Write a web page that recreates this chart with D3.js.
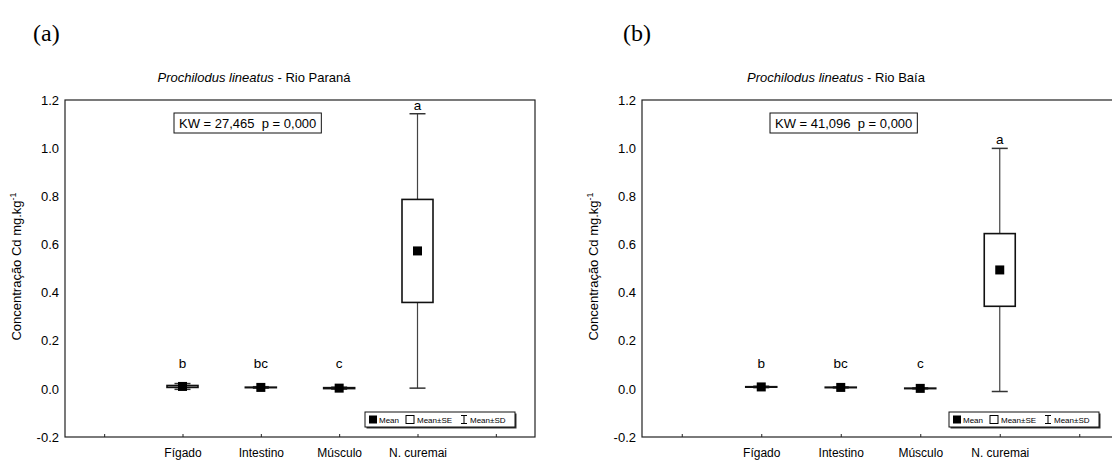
<!DOCTYPE html>
<html>
<head>
<meta charset="utf-8">
<script src="https://cdn.jsdelivr.net/npm/d3@7"></script>
<style>
  html, body { margin: 0; padding: 0; background: #fff; }
  svg { display: block; }
  text { font-family: "Liberation Sans", Arial, sans-serif; fill: #000; }
</style>
</head>
<body>
<svg id="fig" width="1112" height="460"></svg>
<script>
// Cd concentration (mg.kg-1) in Prochilodus lineatus tissues and N. curemai
const categories = ["Fígado", "Intestino", "Músculo", "N. curemai"];
const slots = ["pad0", ...categories, "pad1"];
const yTicks = [-0.2, 0.0, 0.2, 0.4, 0.6, 0.8, 1.0, 1.2];

// Rio Paraná
const meanParana = [0.010, 0.006, 0.003, 0.573];
const seParana   = [0.004, 0.001, 0.002, 0.214];
const sdParana   = [0.012, 0.003, 0.004, 0.570];
const lettersParana = ["b", "bc", "c", "a"];

// Rio Baía
const meanBaia = [0.008, 0.006, 0.002, 0.494];
const seBaia   = [0.001, 0.001, 0.001, 0.151];
const sdBaia   = [0.003, 0.002, 0.002, 0.505];
const lettersBaia = ["b", "bc", "c", "a"];

const panels = [
  { tag: "(a)", site: "Rio Paraná", kw: "KW = 27,465\u00a0\u00a0p = 0,000",
    mean: meanParana, se: seParana, sd: sdParana, letters: lettersParana,
    left: 65, right: 535, titleX: 254, tagX: 33, ylabX: 21, kwX: 174 },
  { tag: "(b)", site: "Rio Baía", kw: "KW = 41,096\u00a0\u00a0p = 0,000",
    mean: meanBaia, se: seBaia, sd: sdBaia, letters: lettersBaia,
    left: 642, right: 1119, titleX: 836, tagX: 623, ylabX: 598, kwX: 770 }
];

const plotTop = 100, plotBottom = 437;
const svg = d3.select("#fig");

panels.forEach(p => {
  const g = svg.append("g");
  const x = d3.scalePoint().domain(slots).range([p.left, p.right]).padding(0.5);
  const y = d3.scaleLinear().domain([-0.2, 1.2]).range([plotBottom, plotTop]);

  // panel tag
  g.append("text").attr("x", p.tagX).attr("y", 41)
    .style("font-family", "'Liberation Serif', 'Times New Roman', serif")
    .style("font-size", "24px").text(p.tag);

  // title
  const t = g.append("text").attr("x", p.titleX).attr("y", 82)
    .attr("text-anchor", "middle").style("font-size", "13px");
  t.append("tspan").style("font-style", "italic").text("Prochilodus lineatus");
  t.append("tspan").text(" - " + p.site);

  // frame
  g.append("rect").attr("x", p.left).attr("y", plotTop)
    .attr("width", p.right - p.left).attr("height", plotBottom - plotTop)
    .attr("fill", "none").attr("stroke", "#222").attr("stroke-width", 1.2);

  // y axis (labels only, no tick marks)
  const ya = g.append("g").attr("transform", `translate(${p.left},0)`)
    .call(d3.axisLeft(y).tickValues(yTicks).tickSize(0).tickPadding(6)
      .tickFormat(d => d < 0 ? "-" + Math.abs(d).toFixed(1) : d.toFixed(1)));
  ya.select(".domain").remove();
  ya.selectAll("text").style("font-size", "13px")
    .style("font-family", "'Liberation Sans', Arial, sans-serif");

  // x axis with short inward ticks
  const xa = g.append("g").attr("transform", `translate(0,${plotBottom})`)
    .call(d3.axisBottom(x).tickSize(-3).tickPadding(11)
      .tickFormat(d => categories.includes(d) ? d : ""));
  xa.select(".domain").remove();
  xa.selectAll("line").attr("stroke", "#222");
  xa.selectAll("text").style("font-size", "12px")
    .style("font-family", "'Liberation Sans', Arial, sans-serif");

  // y axis title
  const yl = g.append("text")
    .attr("transform", `translate(${p.ylabX},${(plotTop + plotBottom) / 2 - 2}) rotate(-90)`)
    .attr("text-anchor", "middle").style("font-size", "13px");
  yl.append("tspan").text("Concentração Cd mg.kg");
  yl.append("tspan").attr("dy", -5).style("font-size", "9px").text("-1");

  // Kruskal-Wallis box
  const kw = g.append("g");
  const kwText = kw.append("text").attr("x", p.kwX + 5).attr("y", 128)
    .style("font-size", "13px").text(p.kw);
  const kwW = kwText.node().getComputedTextLength() + 10;
  kw.insert("rect", "text").attr("x", p.kwX).attr("y", 113)
    .attr("width", kwW).attr("height", 20)
    .attr("fill", "#fff").attr("stroke", "#111").attr("stroke-width", 1);

  // whiskers (mean ± SD), boxes (mean ± SE), mean markers
  const boxW = 31, capW = 16, mk = 9;
  categories.forEach((c, i) => {
    const cx = x(c);
    const m = p.mean[i], se = p.se[i], sd = p.sd[i];
    g.append("line").attr("x1", cx).attr("x2", cx)
      .attr("y1", y(m + sd)).attr("y2", y(m - sd))
      .attr("stroke", "#444").attr("stroke-width", 1.2);
    [m + sd, m - sd].forEach(v => g.append("line")
      .attr("x1", cx - capW / 2).attr("x2", cx + capW / 2)
      .attr("y1", y(v)).attr("y2", y(v))
      .attr("stroke", "#333").attr("stroke-width", 1.5));
    const bt = y(m + se), bb = y(m - se);
    g.append("rect").attr("x", cx - boxW / 2).attr("y", bt)
      .attr("width", boxW).attr("height", Math.max(bb - bt, 0.5))
      .attr("fill", "#fff").attr("stroke", "#111").attr("stroke-width", 1.6);
    g.append("rect").attr("x", cx - mk / 2).attr("y", y(m) - mk / 2)
      .attr("width", mk).attr("height", mk).attr("fill", "#000");
    // significance letter just above the upper SD cap
    const ly = Math.min(y(m + sd), y(0.07)) - 4;
    g.append("text").attr("x", cx).attr("y", ly).attr("text-anchor", "middle")
      .style("font-size", "13.5px").text(p.letters[i]);
  });

  // legend with drop shadow
  const lgW = 150, lgH = 15, lgX = p.right - 20 - lgW, lgY = 412;
  const lg = g.append("g").attr("transform", `translate(${lgX},${lgY})`);
  lg.append("rect").attr("x", 1.5).attr("y", 1.5).attr("width", lgW).attr("height", lgH).attr("fill", "#333");
  lg.append("rect").attr("width", lgW).attr("height", lgH).attr("fill", "#fff").attr("stroke", "#111").attr("stroke-width", 1);
  lg.append("rect").attr("x", 4).attr("y", 3.5).attr("width", 8).attr("height", 8).attr("fill", "#000");
  lg.append("text").attr("x", 14).attr("y", 11).style("font-size", "8px").text("Mean");
  lg.append("rect").attr("x", 41).attr("y", 3.5).attr("width", 8).attr("height", 8).attr("fill", "#fff").attr("stroke", "#000").attr("stroke-width", 1);
  lg.append("text").attr("x", 52).attr("y", 11).style("font-size", "8px").text("Mean±SE");
  const ib = 96;
  lg.append("path").attr("d", `M${ib},3.5H${ib + 6}M${ib + 3},3.5V11.5M${ib},11.5H${ib + 6}`)
    .attr("stroke", "#000").attr("stroke-width", 1).attr("fill", "none");
  lg.append("text").attr("x", ib + 9).attr("y", 11).style("font-size", "8px").text("Mean±SD");
});
</script>
</body>
</html>
